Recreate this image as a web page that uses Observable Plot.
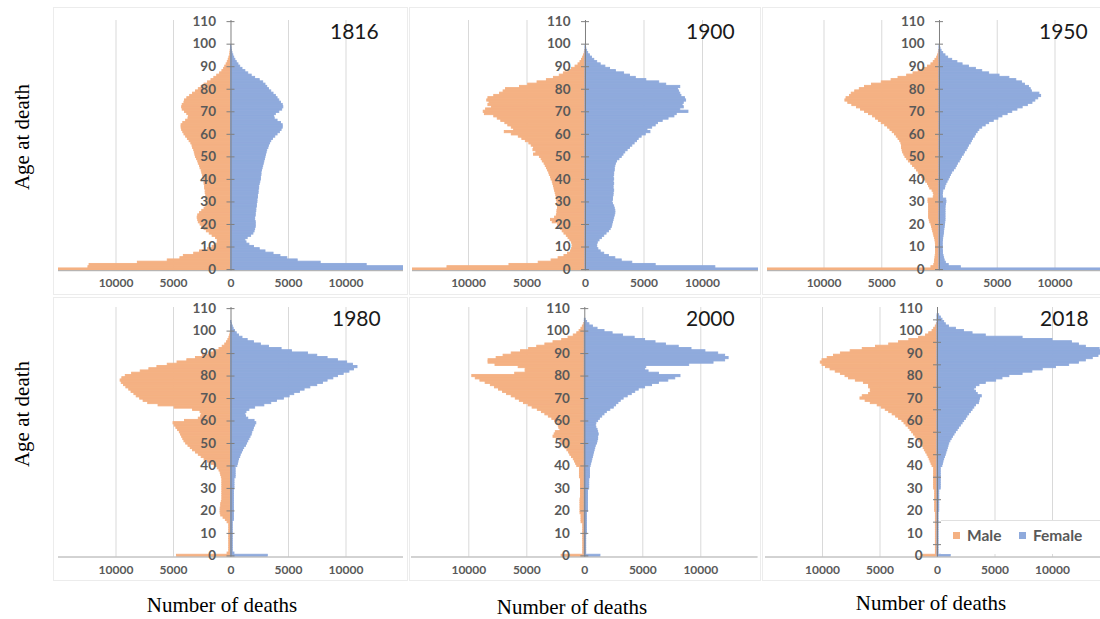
<!DOCTYPE html>
<html>
<head>
<meta charset="utf-8">
<script src="https://cdn.jsdelivr.net/npm/d3@7"></script>
<script src="https://cdn.jsdelivr.net/npm/@observablehq/plot@0.6"></script>
<style>
  html, body { margin: 0; padding: 0; background: #fff; }
  #root { position: relative; width: 1100px; height: 619px; overflow: hidden; background: #fff; }
  .panel { position: absolute; }
  .panel svg { overflow: visible; max-width: none !important; display: block; }
  #overlay { position: absolute; left: 0; top: 0; pointer-events: none; }
</style>
</head>
<body>
<div id="root"></div>
<script>
// ---------------- DATA ----------------
const years = ["1816", "1900", "1950", "1980", "2000", "2018"];
const sexes = ["Male", "Female"];
const ageLabels = [0, 10, 20, 30, 40, 50, 60, 70, 80, 90, 100, 110];
const xTickValues = [-10000, -5000, 0, 5000, 10000];
const xGridValues = [-10000, -5000, 5000, 10000];

// deaths by single year of age (index = age)
const female1816 = [16000,15200,11800,7800,5800,4900,4300,3700,3000,2500,
  2000,1600,1350,1250,1450,1750,1950,2050,2100,2150,
  2150,2150,2100,2100,2150,2150,2200,2200,2250,2250,
  2300,2300,2350,2350,2400,2400,2450,2450,2500,2550,
  2600,2600,2650,2650,2700,2750,2800,2850,2900,2950,
  3000,3050,3100,3150,3250,3300,3400,3500,3650,3850,
  4050,4250,4400,4500,4500,4350,4050,3800,3750,3900,
  4200,4450,4550,4500,4350,4200,4050,3900,3700,3500,
  3300,3150,3000,2800,2500,2100,1800,1500,1250,1000,
  800,650,500,380,280,200,130,80,50,30];
const male1816 = [16500,12400,12300,8100,5500,4400,4100,3200,2700,2000,
  1600,1300,1150,1150,1300,1600,1850,2100,2300,2500,
  2650,2800,2850,2900,2850,2700,2500,2300,2150,2100,
  2100,2100,2150,2150,2200,2200,2250,2250,2300,2300,
  2350,2400,2450,2500,2550,2650,2700,2800,2850,2950,
  3050,3100,3150,3200,3300,3350,3450,3600,3750,3900,
  4050,4150,4250,4300,4300,4150,3900,3700,3650,3800,
  4000,4200,4250,4200,4050,4000,3800,3550,3300,3050,
  2800,2550,2300,2000,1700,1450,1200,950,750,600,
  500,380,280,200,140,90,50,30];
const female1900 = [18000,11100,6000,4000,3100,2550,2000,1600,1300,1100,
  1000,1000,1050,1200,1400,1600,1800,2000,2150,2250,
  2300,2350,2400,2450,2500,2550,2550,2500,2450,2350,
  2300,2350,2350,2400,2400,2450,2400,2400,2450,2400,
  2450,2400,2450,2450,2500,2500,2550,2600,2700,2900,
  3100,3250,3400,3600,3800,4000,4200,4400,4550,4800,
  5150,5550,5300,5700,6000,6200,6600,7100,7600,7800,
  8800,8100,8400,8300,8400,8600,8500,8200,8100,8000,
  7900,8100,6900,6300,5200,4300,3800,3300,2600,2100,
  1700,1300,1000,750,550,380,230,140,70,30];
const male1900 = [19000,11800,6500,4000,2900,2300,1800,1500,1250,1150,
  1100,1100,1150,1300,1450,1600,1800,1950,2100,2200,
  2350,2800,2950,2600,2450,2400,2400,2350,2350,2400,
  2400,2450,2450,2500,2550,2600,2650,2700,2750,2800,
  2900,2950,3050,3100,3200,3300,3400,3500,3650,3750,
  3900,4400,4200,4450,4400,4600,4800,5100,5400,5700,
  6300,6900,6100,6300,6600,6850,7200,7500,7800,8600,
  8700,8500,8000,8300,8200,8400,8300,7800,7300,7000,
  6800,5600,4900,4100,3300,2700,2200,1850,1450,1150,
  850,600,430,300,200,120,60,30];
const female1950 = [16000,1850,800,550,450,400,350,300,300,280,
  280,280,280,300,320,350,380,400,420,450,
  480,500,520,520,520,520,520,520,530,560,
  600,580,300,280,300,330,480,520,600,700,
  800,900,1000,1100,1250,1400,1500,1600,1750,1850,
  1950,2100,2200,2350,2450,2550,2700,2800,2900,3050,
  3150,3300,3450,3700,4000,4300,4700,5100,5450,5900,
  6300,6750,7200,7650,8050,8300,8550,8800,8650,8000,
  7900,7750,7400,7150,6650,6050,5200,4300,3700,3150,
  2550,2000,1550,1100,750,520,320,180,90,40];
const male1950 = [17500,700,450,400,380,350,330,300,300,300,
  300,300,320,350,400,450,500,550,600,650,
  700,800,850,900,900,900,900,900,900,900,
  950,950,500,450,500,600,800,900,1000,1150,
  1350,1500,1650,1800,1950,2100,2300,2450,2650,2800,
  2950,3050,3150,3200,3250,3250,3300,3400,3550,3700,
  3850,4050,4250,4450,4700,5000,5250,5500,5750,6100,
  6450,6800,7150,7550,7900,8150,8050,7750,7600,7300,
  6900,6450,5850,5000,4150,3550,2800,2250,1800,1350,
  1000,700,500,350,200,120,60,30];
const female1980 = [3200,300,150,150,150,150,150,150,150,150,
  150,150,150,150,150,150,250,250,250,250,
  250,250,250,250,250,250,250,250,250,250,
  300,300,300,300,300,400,400,400,400,400,
  550,600,650,700,800,850,950,1050,1150,1300,
  1400,1500,1600,1700,1800,1850,1950,2000,2100,2200,
  2050,1500,1300,1250,1350,1600,2100,2900,3500,4000,
  4600,5100,5500,6000,6400,6900,7500,8000,8400,8900,
  9300,9800,10300,10700,11000,10600,10100,9300,8400,7500,
  6700,5300,4400,3300,2600,2000,1450,1000,700,500,
  350,230,150,80,40];
const male1980 = [4700,300,150,150,150,150,150,150,150,150,
  150,150,150,150,150,300,450,650,850,900,
  900,900,850,850,800,750,750,750,750,750,
  750,750,750,750,750,800,850,900,1000,1150,
  1400,1700,2000,2300,2550,2800,3050,3300,3500,3700,
  3900,4050,4150,4250,4350,4450,4600,4750,4900,5000,
  4000,2800,2600,2550,2650,3300,4900,6300,7200,7600,
  7900,8200,8400,8650,8850,9100,9300,9500,9600,9450,
  9150,8600,7850,7100,6400,5500,4650,3800,3050,2450,
  1900,1450,1000,720,500,350,230,140,70,30];
const female2000 = [1350,120,120,120,120,120,120,120,120,120,
  180,180,180,180,180,180,180,180,180,180,
  280,280,280,280,280,280,280,280,280,280,
  380,380,380,380,380,450,450,450,450,450,
  500,550,600,650,700,750,800,850,900,950,
  1050,1100,1150,1150,1200,1150,1100,1000,950,1000,
  1150,1300,1500,1700,1900,2200,2500,2700,2900,3100,
  3350,3700,4050,4350,4650,5200,5800,6400,7200,7800,
  8250,6400,5500,5200,5300,9000,11100,12100,12400,12100,
  11500,10400,9200,8100,7000,6100,5200,4300,3300,2400,
  1700,1100,700,400,200,80];
const male2000 = [2000,130,130,130,130,130,130,130,130,130,
  130,130,130,130,130,280,280,280,280,370,
  370,370,370,370,370,370,330,330,330,330,
  330,330,330,330,330,420,420,420,420,420,
  650,750,850,950,1100,1250,1350,1500,1650,1800,
  1950,2100,2250,2700,2600,2500,2100,2200,2250,2350,
  2550,2800,3100,3400,3700,4050,4500,4850,5250,5600,
  5950,6300,6700,7050,7400,7750,8100,8550,9000,9400,
  9700,6000,5100,5100,5700,7700,8300,8300,7600,7000,
  6300,5500,4800,4100,3400,2700,1950,1400,950,650,
  450,290,170,80];
const female2018 = [1150,90,90,90,90,90,90,90,90,90,
  90,90,90,90,90,90,90,90,90,90,
  150,150,150,150,150,150,150,150,150,150,
  280,280,280,280,280,280,280,280,280,280,
  420,470,520,580,650,720,780,850,900,960,
  1020,1120,1230,1350,1480,1600,1750,1880,2030,2180,
  2320,2470,2600,2750,2900,3050,3200,3350,3600,3650,
  3700,3850,3500,3350,3200,3350,3650,4200,5100,5650,
  6250,7400,8250,9150,10300,11450,12300,12900,13500,14000,
  14500,14600,14100,12900,12300,11700,10000,7400,4200,3050,
  2300,1600,1000,725,580,435,290,145];
const male2018 = [1300,140,140,140,140,140,140,140,140,140,
  140,140,140,140,140,140,140,140,140,140,
  200,200,200,200,200,200,200,200,200,200,
  290,290,290,290,290,290,290,290,290,290,
  430,520,600,680,770,870,980,1100,1200,1330,
  1450,1600,1750,1900,2050,2200,2350,2500,2700,2870,
  3050,3350,3600,3900,4200,4500,4850,5200,5800,6250,
  6700,6500,5950,5800,5800,5950,5950,6400,7100,7700,
  8000,8400,8850,9300,9700,10000,10150,10000,9550,9000,
  8400,7550,6500,5350,4200,3350,2450,1600,1000,720,
  430,290,150,60];

const femaleByYear = [female1816, female1900, female1950, female1980, female2000, female2018];
const maleByYear = [male1816, male1900, male1950, male1980, male2000, male2018];

// ---------------- STYLE / LAYOUT ----------------
const ORANGE = "#F4B183";
const BLUE = "#8FAADC";
const LABEL = "#595959";

// frame geometry per panel (page pixels)
const layout = [
  {zeroX: 230,   frameLeft: 57.5, top: 19.9,  bottom: 270.1},
  {zeroX: 585,   frameLeft: 412,  top: 19.9,  bottom: 270.1},
  {zeroX: 939,   frameLeft: 767,  top: 19.9,  bottom: 270.1},
  {zeroX: 230,   frameLeft: 57.5, top: 307.1, bottom: 556.6},
  {zeroX: 584.3, frameLeft: 411,  top: 307.1, bottom: 556.6},
  {zeroX: 937,   frameLeft: 765,  top: 307.1, bottom: 556.6}
];
const pxPer10k = [115, 117, 115.5, 115, 116, 115];
const tickMarksByPanel = [
  ageLabels, ageLabels, ageLabels, ageLabels, ageLabels,
  [5, 15, 25, 35, 45, 55, 65, 75, 85, 95, 105]
];

const root = document.getElementById("root");

years.forEach((yr, i) => {
  const L = layout[i];
  const half = (L.zeroX - L.frameLeft) / pxPer10k[i] * 10000;
  const W = 2 * (L.zeroX - L.frameLeft);
  const H = L.bottom - L.top;
  const fem = femaleByYear[i].map((v, a) => ({age: a, value: v}));
  const mal = maleByYear[i].map((v, a) => ({age: a, value: -v}));

  const chart = Plot.plot({
    width: W,
    height: H + 30,
    marginLeft: 0, marginRight: 0, marginTop: 0, marginBottom: 30,
    x: {domain: [-half, half]},
    y: {domain: [-0.5, 110.5], axis: null},
    style: {fontFamily: "Lato, 'Open Sans', sans-serif", fontWeight: "bold", color: LABEL, background: "transparent", overflow: "visible", maxWidth: "none"},
    marks: [
      Plot.gridX(xGridValues, {stroke: "#d9d9d9", strokeOpacity: 1}),
      Plot.rectX(mal, {x1: 0, x2: "value", y1: d => d.age - 0.5, y2: d => d.age + 0.5, fill: ORANGE, stroke: ORANGE, strokeWidth: 0.9, clip: true}),
      Plot.rectX(fem, {x1: 0, x2: "value", y1: d => d.age - 0.5, y2: d => d.age + 0.5, fill: BLUE, stroke: BLUE, strokeWidth: 0.9, clip: true}),
      Plot.ruleY([-0.5], {stroke: "#a6a6a6", strokeWidth: 1}),
      Plot.ruleX([0], {y1: -0.5, y2: 110.5, stroke: "#7f7f7f", strokeWidth: 1}),
      Plot.ruleY(tickMarksByPanel[i], {x1: 0, x2: 0, insetLeft: -4, insetRight: -4, stroke: "#7f7f7f", strokeWidth: 1}),
      Plot.text(ageLabels, {x: 0, y: d => d, text: d => String(d), dx: -15, textAnchor: "end", fontSize: 13.5, fontWeight: "bold", fill: LABEL}),
      Plot.axisX(xTickValues, {tickFormat: d => String(Math.abs(d)), tickSize: 0, tickPadding: 8, fontSize: 12, fontWeight: "bold", color: LABEL, label: null})
    ]
  });
  const wrap = document.createElement("div");
  wrap.className = "panel";
  wrap.style.left = L.frameLeft + "px";
  wrap.style.top = L.top + "px";
  wrap.style.width = W + "px";
  wrap.style.height = (H + 30) + "px";
  wrap.appendChild(chart);
  root.appendChild(wrap);
});

// ---------------- TEXT OVERLAY ----------------
const NS = "http://www.w3.org/2000/svg";
const ov = document.createElementNS(NS, "svg");
ov.setAttribute("id", "overlay");
ov.setAttribute("width", 1100);
ov.setAttribute("height", 619);
root.appendChild(ov);
function el(tag, attrs, text) {
  const e = document.createElementNS(NS, tag);
  for (const k in attrs) e.setAttribute(k, attrs[k]);
  if (text != null) e.textContent = text;
  ov.appendChild(e);
  return e;
}
// chart-area borders
[[53, 7, 354, 287], [409, 7, 351, 287], [762, 7, 345, 287],
 [53, 297, 354, 283], [409, 297, 351, 283], [762, 297, 345, 283]].forEach(r =>
  el("rect", {x: r[0] + 0.5, y: r[1] + 0.5, width: r[2], height: r[3], fill: "none", stroke: "#ececec"}));

// year labels
const yearPos = [[330, 39], [686, 39], [1039, 39], [332, 326], [686, 326], [1040, 326]];
years.forEach((yr, i) => el("text", {x: yearPos[i][0], y: yearPos[i][1], "font-family": "Lato, sans-serif", "font-size": 21, fill: "#1a1a1a"}, yr));

// axis titles
const serif = "'Liberation Serif', 'Times New Roman', serif";
[137, 414].forEach(cy => el("text", {transform: `translate(29,${cy}) rotate(-90)`, "text-anchor": "middle", "font-family": serif, "font-size": 21, fill: "#000"}, "Age at death"));
[[222, 612], [572, 614], [931, 610]].forEach(p => el("text", {x: p[0], y: p[1], "text-anchor": "middle", "font-family": serif, "font-size": 21, fill: "#000"}, "Number of deaths"));

// legend
el("rect", {x: 941, y: 520, width: 170, height: 34, fill: "#fff"});
el("line", {x1: 941, x2: 1100, y1: 520.5, y2: 520.5, stroke: "#e0e0e0"});
el("rect", {x: 953, y: 532, width: 7, height: 7, fill: ORANGE});
el("text", {x: 967, y: 541, "font-family": "Lato, sans-serif", "font-weight": "bold", "font-size": 15.5, fill: LABEL}, sexes[0]);
el("rect", {x: 1019, y: 532, width: 7, height: 7, fill: BLUE});
el("text", {x: 1033, y: 541, "font-family": "Lato, sans-serif", "font-weight": "bold", "font-size": 15.5, fill: LABEL}, sexes[1]);
</script>
</body>
</html>
